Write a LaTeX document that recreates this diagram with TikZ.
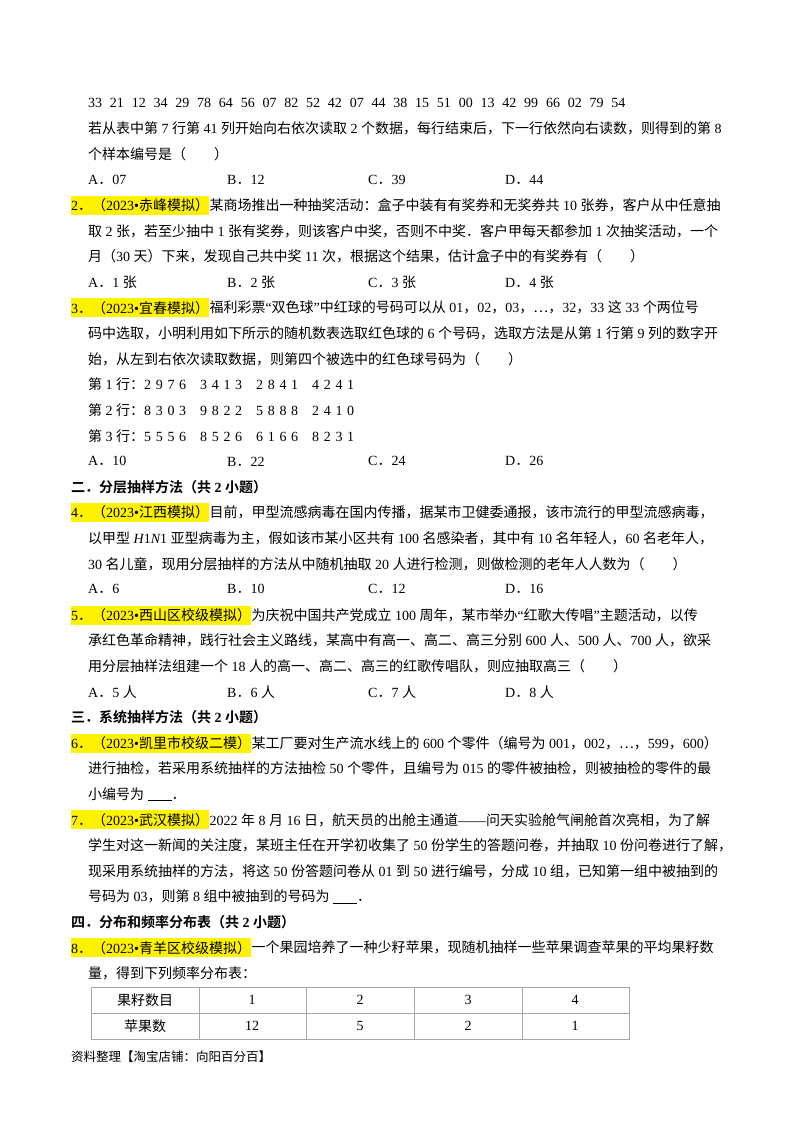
\documentclass[tikz,border=0pt]{standalone}
\usepackage{fontspec}
\setmainfont{Liberation Serif}
\newfontfamily\cjk{Noto Sans CJK SC}[BoldFont={Noto Sans CJK SC Bold}]
\XeTeXinterchartokenstate=1
\newXeTeXintercharclass\cjkcls
\makeatletter
\def\setcls#1#2{\count@=#1\relax\loop\XeTeXcharclass\count@=\cjkcls\advance\count@ 1\ifnum\count@<#2\repeat}
\setcls{"4E00}{"A000}
\setcls{"3000}{"3040}
\setcls{"FF00}{"FFF0}
\setcls{"22EF}{"22F0}
\makeatother
\XeTeXinterchartoks 0 \cjkcls={\cjk}
\XeTeXinterchartoks 4095 \cjkcls={\cjk}
\XeTeXinterchartoks \cjkcls 0={\rmfamily}
\XeTeXinterchartoks \cjkcls 4095={\rmfamily}
\begin{document}
\begin{tikzpicture}[x=1pt,y=1pt,
  txt/.style={anchor=west,inner sep=0pt,font=\fontsize{14}{16}\selectfont},
  hl/.style={txt,fill=yellow,minimum height=19pt},
  sec/.style={txt,font=\fontsize{14}{16}\selectfont\bfseries},
  cell/.style={inner sep=0pt,font=\fontsize{14}{16}\selectfont}]
\useasboundingbox (0,0) rectangle (800,-1132);
\def\Y#1{-(103+25.6*#1)}
\def\gap{\hspace{28pt}}
\newcommand\opts[5]{%
 \node[txt] (#1a) at (88,{\Y{#2}}) {A．#3};
 \node[txt] (#1b) at (227,{\Y{#2}}) {B．#4};
 \node[txt] (#1c) at (368,{\Y{#2}}) {C．#5};}
\newcommand\optd[3]{\node[txt] (#1d) at (505,{\Y{#2}}) {D．#3};}
\newcommand\hiline[4]{%
 \node[hl] (h#1) at (71,{\Y{#2}}) {#3};
 \node[txt] (l#1) at (h#1.east) {#4};}
\node[txt] (l0) at (88,{\Y0}) {\spaceskip=7.8pt 33 21 12 34 29 78 64 56 07 82 52 42 07 44 38 15 51 00 13 42 99 66 02 79 54};
\node[txt] (l1) at (88,{\Y1}) {若从表中第 7 行第 41 列开始向右依次读取 2 个数据，每行结束后，下一行依然向右读数，则得到的第 8};
\node[txt] (l2) at (88,{\Y2}) {个样本编号是（\gap）};
\opts{o3}{3}{07}{12}{39}\optd{o3}{3}{44}
\hiline{4}{4}{2．（2023•赤峰模拟）}{某商场推出一种抽奖活动：盒子中装有有奖券和无奖券共 10 张券，客户从中任意抽}
\node[txt] (l5) at (88,{\Y5}) {取 2 张，若至少抽中 1 张有奖券，则该客户中奖，否则不中奖．客户甲每天都参加 1 次抽奖活动，一个};
\node[txt] (l6) at (88,{\Y6}) {月（30 天）下来，发现自己共中奖 11 次，根据这个结果，估计盒子中的有奖券有（\gap）};
\opts{o7}{7}{1 张}{2 张}{3 张}\optd{o7}{7}{4 张}
\hiline{8}{8}{3．（2023•宜春模拟）}{福利彩票“双色球”中红球的号码可以从 01，02，03，{\cjk ⋯}，32，33 这 33 个两位号}
\node[txt] (l9) at (88,{\Y9}) {码中选取，小明利用如下所示的随机数表选取红色球的 6 个号码，选取方法是从第 1 行第 9 列的数字开};
\node[txt] (l10) at (88,{\Y{10}}) {始，从左到右依次读取数据，则第四个被选中的红色球号码为（\gap）};
\node[txt] (l11) at (88,{\Y{11}}) {第 1 行：2\,\,9\,\,7\,\,6\quad 3\,\,4\,\,1\,\,3\quad 2\,\,8\,\,4\,\,1\quad 4\,\,2\,\,4\,\,1};
\node[txt] (l12) at (88,{\Y{12}}) {第 2 行：8\,\,3\,\,0\,\,3\quad 9\,\,8\,\,2\,\,2\quad 5\,\,8\,\,8\,\,8\quad 2\,\,4\,\,1\,\,0};
\node[txt] (l13) at (88,{\Y{13}}) {第 3 行：5\,\,5\,\,5\,\,6\quad 8\,\,5\,\,2\,\,6\quad 6\,\,1\,\,6\,\,6\quad 8\,\,2\,\,3\,\,1};
\opts{o14}{14}{10}{22}{24}\optd{o14}{14}{26}
\node[sec] (s15) at (71,{\Y{15}}) {二．分层抽样方法（共 2 小题）};
\hiline{16}{16}{4．（2023•江西模拟）}{目前，甲型流感病毒在国内传播，据某市卫健委通报，该市流行的甲型流感病毒，}
\node[txt] (l17) at (88,{\Y{17}}) {以甲型 {\rmfamily\itshape H}{\rmfamily 1}{\rmfamily\itshape N}{\rmfamily 1} 亚型病毒为主，假如该市某小区共有 100 名感染者，其中有 10 名年轻人，60 名老年人，};
\node[txt] (l18) at (88,{\Y{18}}) {30 名儿童，现用分层抽样的方法从中随机抽取 20 人进行检测，则做检测的老年人人数为（\gap）};
\opts{o19}{19}{6}{10}{12}\optd{o19}{19}{16}
\hiline{20}{20}{5．（2023•西山区校级模拟）}{为庆祝中国共产党成立 100 周年，某市举办“红歌大传唱”主题活动，以传}
\node[txt] (l21) at (88,{\Y{21}}) {承红色革命精神，践行社会主义路线，某高中有高一、高二、高三分别 600 人、500 人、700 人，欲采};
\node[txt] (l22) at (88,{\Y{22}}) {用分层抽样法组建一个 18 人的高一、高二、高三的红歌传唱队，则应抽取高三（\gap）};
\opts{o23}{23}{5 人}{6 人}{7 人}\optd{o23}{23}{8 人}
\node[sec] (s24) at (71,{\Y{24}}) {三．系统抽样方法（共 2 小题）};
\hiline{25}{25}{6．（2023•凯里市校级二模）}{某工厂要对生产流水线上的 600 个零件（编号为 001，002，{\cjk ⋯}，599，600）}
\node[txt] (l26) at (88,{\Y{26}}) {进行抽检，若采用系统抽样的方法抽检 50 个零件，且编号为 015 的零件被抽检，则被抽检的零件的最};
\node[txt] (l27) at (88,{\Y{27}}) {小编号为 \underline{\hspace{24pt}}．};
\hiline{28}{28}{7．（2023•武汉模拟）}{2022 年 8 月 16 日，航天员的出舱主通道——问天实验舱气闸舱首次亮相，为了解}
\node[txt] (l29) at (88,{\Y{29}}) {学生对这一新闻的关注度，某班主任在开学初收集了 50 份学生的答题问卷，并抽取 10 份问卷进行了解，};
\node[txt] (l30) at (88,{\Y{30}}) {现采用系统抽样的方法，将这 50 份答题问卷从 01 到 50 进行编号，分成 10 组，已知第一组中被抽到的};
\node[txt] (l31) at (88,{\Y{31}}) {号码为 03，则第 8 组中被抽到的号码为 \underline{\hspace{24pt}}．};
\node[sec] (s32) at (71,{\Y{32}}) {四．分布和频率分布表（共 2 小题）};
\hiline{33}{33}{8．（2023•青羊区校级模拟）}{一个果园培养了一种少籽苹果，现随机抽样一些苹果调查苹果的平均果籽数}
\node[txt] (l34) at (88,{\Y{34}}) {量，得到下列频率分布表：};
% table
\draw[gray!70,line width=0.8pt] (91,-987) rectangle (629,-1039);
\draw[gray!70,line width=0.8pt] (91,-1013) -- (629,-1013);
\foreach \x in {199,306,414,522} \draw[gray!70,line width=0.8pt] (\x,-987) -- (\x,-1039);
\node[cell] (t00) at (145,-1000) {果籽数目};
\node[cell] (t10) at (145,-1026) {苹果数};
\node[cell] (t01) at (252,-1000) {1};
\node[cell] (t02) at (360,-1000) {2};
\node[cell] (t03) at (468,-1000) {3};
\node[cell] (t04) at (575,-1000) {4};
\node[cell] (t11) at (252,-1026) {12};
\node[cell] (t12) at (360,-1026) {5};
\node[cell] (t13) at (468,-1026) {2};
\node[cell] (t14) at (575,-1026) {1};
\node[txt,font=\fontsize{12.5}{14}\selectfont] (foot) at (71,-1057) {资料整理【淘宝店铺：向阳百分百】};
\end{tikzpicture}
\end{document}
